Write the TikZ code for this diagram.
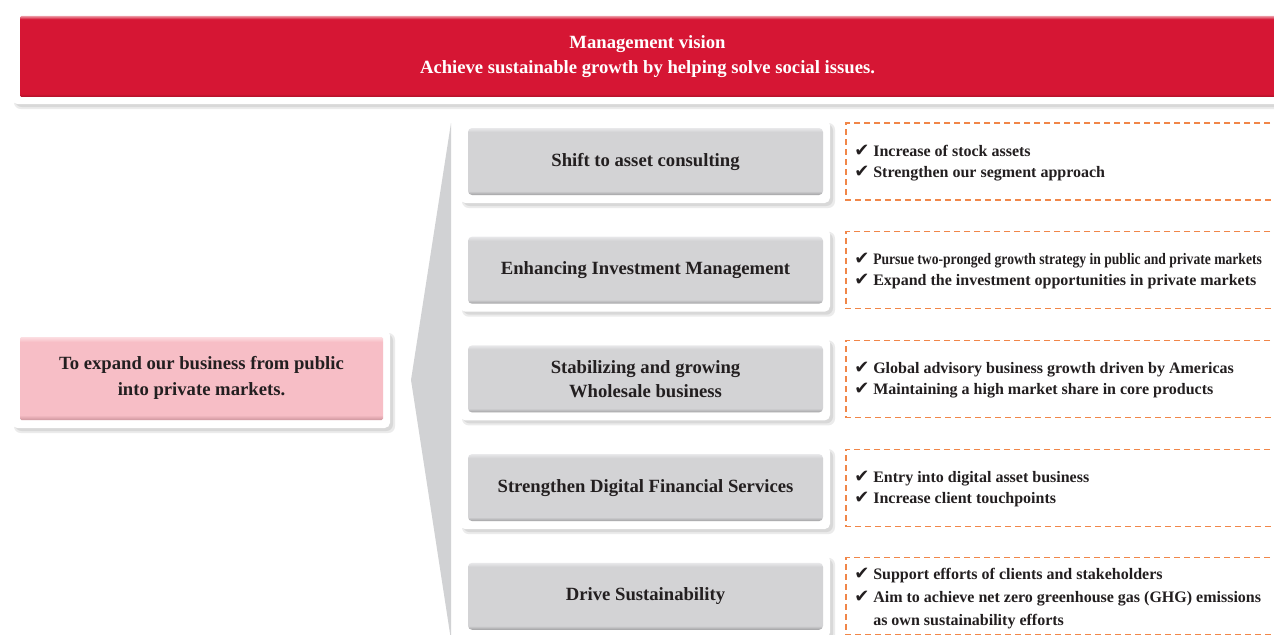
\documentclass[tikz,border=0pt]{standalone}
\usepackage{fontspec}
\usepackage{graphicx}
\setmainfont{Liberation Serif}
\newfontfamily\checkfont{DejaVu Sans}

\definecolor{visionred}{RGB}{214,22,52}
\definecolor{visionredlight}{RGB}{236,150,162}
\definecolor{visionreddark}{RGB}{170,16,40}
\definecolor{pillargray}{RGB}{211,211,213}
\definecolor{pillargraylight}{RGB}{232,232,234}
\definecolor{pillargraydark}{RGB}{160,160,162}
\definecolor{goalpink}{RGB}{247,190,198}
\definecolor{goalpinklight}{RGB}{252,222,226}
\definecolor{goalpinkdark}{RGB}{206,150,158}
\definecolor{wedgegray}{RGB}{209,210,212}
\definecolor{dashorange}{RGB}{241,134,72}
\definecolor{inkdark}{RGB}{35,31,32}

\pgfdeclareverticalshading{visionbevel}{100bp}{color(0bp)=(visionreddark); color(25bp)=(visionreddark); color(27bp)=(visionred); color(73bp)=(visionred); color(75bp)=(visionredlight); color(100bp)=(visionredlight)}
\pgfdeclareverticalshading{pillarbevel}{100bp}{color(0bp)=(pillargraydark); color(25bp)=(pillargraydark); color(28bp)=(pillargray); color(72bp)=(pillargray); color(75bp)=(pillargraylight); color(100bp)=(pillargraylight)}
\pgfdeclareverticalshading{goalbevel}{100bp}{color(0bp)=(goalpinkdark); color(25bp)=(goalpinkdark); color(28bp)=(goalpink); color(72bp)=(goalpink); color(75bp)=(goalpinklight); color(100bp)=(goalpinklight)}

\newcommand{\tick}{\makebox[14.25pt][l]{\checkfont\mdseries\fontsize{13.5}{13.5}\selectfont ✔}}

\begin{document}
\begin{tikzpicture}[x=0.75pt,y=0.75pt,yscale=-1,xscale=1,
	frame/.style={fill=white, rounded corners=4pt},
	frameshadow/.style={fill=black, fill opacity=0.08, rounded corners=5pt},
	visionfill/.style={shading=visionbevel, rounded corners=1pt},
	pillarfill/.style={shading=pillarbevel, rounded corners=3pt},
	goalfill/.style={shading=goalbevel, rounded corners=1pt},
	visiontext/.style={inner sep=0.75pt, align=center, text=white, font=\bfseries\fontsize{14}{18.75}\selectfont},
	pillartext/.style={inner sep=0.75pt, align=center, text=inkdark, font=\bfseries\fontsize{14}{18}\selectfont},
	detailbox/.style={draw=dashorange, line width=0.9pt, dash pattern=on 4.5pt off 3pt},
	detailtext/.style={anchor=west, inner sep=0pt, align=left, text=inkdark, font=\bfseries\fontsize{12}{15.75}\selectfont}]
	\clip (0,0) rectangle (1274,635);
	\fill[white] (0,0) rectangle (1274,635);
	% management vision banner
	\fill[frameshadow] (14,13) rectangle (1290,109);
	\fill[frameshadow] (15,14) rectangle (1290,107);
	\fill[frame] (12,10) rectangle (1290,104);
	\shade[visionfill] (20,16) rectangle (1290,97);
	\node[visiontext] (vision) at (647.5,56.5) {Management vision\\Achieve sustainable growth by helping solve social issues.};
	% wedge behind the pillars
	\fill[wedgegray] (451,123) -- (411,380) -- (451,640) -- cycle;
	% goal box
	\fill[frameshadow] (14,333) rectangle (395,433);
	\fill[frameshadow] (15,334) rectangle (393,431);
	\fill[frame] (12,330) rectangle (390,428);
	\shade[goalfill] (20,337) rectangle (383,420);
	\node[pillartext, font=\bfseries\fontsize{14}{19.5}\selectfont] (goal) at (201.5,378) {To expand our business from public\\into private markets.};
	% pillar 1
	\fill[frameshadow] (462,123) rectangle (835,208);
	\fill[frameshadow] (463,124) rectangle (833,206);
	\fill[frame] (460,120) rectangle (830,203);
	\shade[pillarfill] (468,128) rectangle (823,195);
	\node[pillartext] (consulting) at (645.5,161.5) {Shift to asset consulting};
	\draw[detailbox] (1280,123) -- (846,123) -- (846,200) -- (1280,200);
	\node[detailtext] (consultingdetail) at (854,163) {\tick Increase of stock assets\\\tick Strengthen our segment approach};
	% pillar 2
	\fill[frameshadow] (462,231.7) rectangle (835,316.7);
	\fill[frameshadow] (463,232.7) rectangle (833,314.7);
	\fill[frame] (460,228.7) rectangle (830,311.7);
	\shade[pillarfill] (468,236.7) rectangle (823,303.7);
	\node[pillartext] (investment) at (645.5,270.2) {Enhancing Investment Management};
	\draw[detailbox] (1280,231.7) -- (846,231.7) -- (846,308.7) -- (1280,308.7);
	\node[detailtext] (investmentdetail) at (854,271.5) {\tick\scalebox{0.85}[1]{Pursue two-pronged growth strategy in public and private markets}\\\tick Expand the investment opportunities in private markets};
	% pillar 3
	\fill[frameshadow] (462,340.4) rectangle (835,425.4);
	\fill[frameshadow] (463,341.4) rectangle (833,423.4);
	\fill[frame] (460,337.4) rectangle (830,420.4);
	\shade[pillarfill] (468,345.4) rectangle (823,412.4);
	\node[pillartext] (wholesale) at (645.5,378.9) {Stabilizing and growing\\Wholesale business};
	\draw[detailbox] (1280,340.4) -- (846,340.4) -- (846,417.4) -- (1280,417.4);
	\node[detailtext] (wholesaledetail) at (854,380.2) {\tick Global advisory business growth driven by Americas\\\tick Maintaining a high market share in core products};
	% pillar 4
	\fill[frameshadow] (462,449.1) rectangle (835,534.1);
	\fill[frameshadow] (463,450.1) rectangle (833,532.1);
	\fill[frame] (460,446.1) rectangle (830,529.1);
	\shade[pillarfill] (468,454.1) rectangle (823,521.1);
	\node[pillartext] (digital) at (645.5,487.6) {Strengthen Digital Financial Services};
	\draw[detailbox] (1280,449.1) -- (846,449.1) -- (846,526.1) -- (1280,526.1);
	\node[detailtext] (digitaldetail) at (854,488.9) {\tick Entry into digital asset business\\\tick Increase client touchpoints};
	% pillar 5
	\fill[frameshadow] (462,557.8) rectangle (835,642.8);
	\fill[frameshadow] (463,558.8) rectangle (833,640.8);
	\fill[frame] (460,554.8) rectangle (830,637.8);
	\shade[pillarfill] (468,562.8) rectangle (823,629.8);
	\node[pillartext] (sustainability) at (645.5,596.3) {Drive Sustainability};
	\draw[detailbox] (1280,557.8) -- (846,557.8) -- (846,634.8) -- (1280,634.8);
	\node[detailtext, font=\bfseries\fontsize{12}{17.25}\selectfont] (sustainabilitydetail) at (854,598.5) {\tick Support efforts of clients and stakeholders\\\tick Aim to achieve net zero greenhouse gas (GHG) emissions\\\hspace*{14.25pt}as own sustainability efforts};
\end{tikzpicture}
\end{document}
